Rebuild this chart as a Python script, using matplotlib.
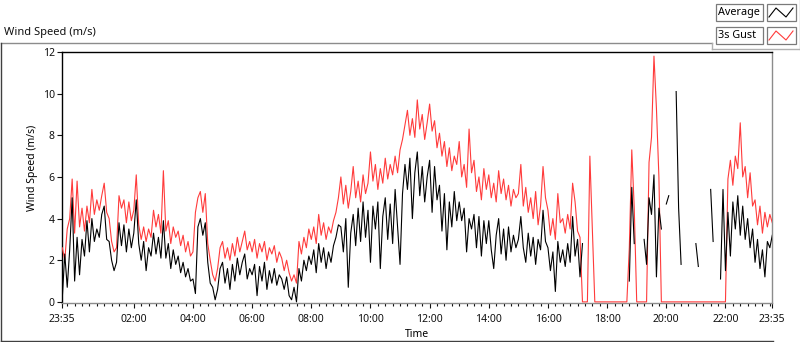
import numpy as np
import matplotlib
matplotlib.use("Agg")
import matplotlib.pyplot as plt
from matplotlib.lines import Line2D
from matplotlib.patches import Rectangle

nan = float("nan")

# 5-minute samples from 23:35 to 23:35 next day (289 samples)
gust = [
    2.6, 2.0, 3.5, 4.0, 5.9,                                    # 23:35-23:55
    3.3, 5.8, 3.6, 4.5, 3.4, 4.6, 3.8, 5.4, 4.2, 4.9, 4.4, 5.1,  # 00
    5.7, 4.3, 4.0, 2.9, 2.4, 2.6, 5.1, 4.5, 4.9, 3.8, 4.8, 3.9,  # 01
    4.4, 6.1, 3.7, 3.0, 3.6, 2.9, 3.5, 3.1, 4.4, 3.6, 4.2, 3.3,  # 02
    6.3, 3.4, 3.9, 2.8, 3.6, 3.1, 3.4, 2.7, 3.2, 2.4, 2.9, 2.2,  # 03
    2.4, 4.3, 5.0, 5.3, 4.3, 5.2, 2.8, 2.0, 1.3, 1.0, 1.6, 2.6,  # 04
    2.9, 2.1, 2.6, 2.0, 2.8, 2.2, 3.1, 2.4, 2.9, 3.4, 2.5, 2.9,  # 05
    2.4, 3.0, 2.1, 2.8, 2.4, 2.9, 2.0, 2.6, 2.3, 2.7, 1.9, 2.4,  # 06
    2.1, 1.5, 2.0, 1.4, 1.0, 1.3, 0.9, 2.9, 2.3, 3.1, 2.6, 3.5,  # 07
    3.0, 3.6, 2.8, 4.2, 3.2, 3.8, 3.0, 3.6, 3.3, 3.9, 4.3, 5.0,  # 08
    6.0, 4.7, 5.6, 4.5, 5.3, 6.5, 5.0, 5.8, 4.8, 6.1, 5.2, 5.7,  # 09
    7.2, 5.8, 6.6, 5.4, 6.4, 5.7, 6.9, 5.9, 6.6, 6.1, 7.0, 6.2,  # 10
    7.3, 7.8, 8.5, 9.2, 8.0, 8.8, 7.9, 9.7, 8.3, 9.0, 7.8, 8.6,  # 11
    9.5, 8.2, 8.7, 7.4, 8.1, 7.0, 7.7, 6.5, 7.4, 6.3, 7.0, 6.6,  # 12
    7.7, 6.0, 6.6, 5.5, 8.3, 6.2, 6.8, 5.3, 6.0, 4.9, 6.4, 5.4,  # 13
    6.1, 5.0, 5.7, 4.8, 6.3, 5.2, 5.9, 4.9, 5.6, 4.6, 5.4, 5.0,  # 14
    5.2, 6.6, 4.6, 5.5, 4.3, 5.0, 4.0, 5.3, 3.7, 4.6, 6.5, 5.0,  # 15
    4.4, 3.2, 4.0, 3.0, 5.2, 3.8, 4.0, 3.3, 4.2, 3.5, 5.7, 4.8,  # 16
    3.4, 3.1, 0.0, 0.0, 0.0, 7.0, 3.5, 0.0, 0.0, 0.0, 0.0, 0.0,  # 17
    0.0, 0.0, 0.0, 0.0, 0.0, 0.0, 0.0, 0.0, 0.0, 2.6, 7.3, 4.5,  # 18
    0.0, 0.0, 0.0, 0.0, 0.0, 6.7, 7.9, 11.8, 9.3, 6.0, 0.0, 0.0,  # 19
    0.0, 0.0, 0.0, 0.0, 0.0, 0.0, 0.0, 0.0, 0.0, 0.0, 0.0, 0.0,  # 20
    0.0, 0.0, 0.0, 0.0, 0.0, 0.0, 0.0, 0.0, 0.0, 0.0, 0.0, 0.0,  # 21
    0.0, 5.9, 6.8, 5.6, 7.0, 6.4, 8.6, 6.0, 6.5, 5.0, 6.2, 4.6,  # 22
    4.9, 3.7, 4.6, 3.3, 4.3, 3.6, 4.2, 3.8,                      # 23:00-23:35
]

average = [
    0.2, 2.3, 0.7, 2.5, 5.0,                                    # 23:35-23:55
    1.0, 3.1, 1.3, 3.0, 2.2, 3.9, 2.4, 4.0, 2.9, 3.5, 3.1, 4.2,  # 00
    4.6, 3.0, 2.9, 2.0, 1.5, 1.9, 3.8, 2.7, 3.7, 2.4, 3.5, 2.6,  # 01
    3.3, 4.9, 2.8, 2.0, 2.9, 1.5, 2.6, 2.2, 3.3, 2.3, 3.1, 2.1,  # 02
    3.9, 2.1, 2.8, 1.6, 2.5, 1.8, 2.2, 1.4, 1.9, 1.2, 1.6, 1.0,  # 03
    1.1, 0.4, 3.6, 4.0, 3.2, 3.8, 1.9, 0.9, 0.7, 0.1, 0.6, 1.6,  # 04
    1.9, 0.9, 1.6, 0.6, 1.8, 1.0, 2.1, 1.3, 1.9, 2.3, 1.1, 1.6,  # 05
    1.3, 1.8, 0.3, 1.7, 1.0, 1.9, 0.6, 1.5, 0.9, 1.6, 0.8, 1.3,  # 06
    1.1, 0.6, 1.2, 0.3, 0.1, 0.7, 0.0, 1.6, 1.0, 2.0, 1.5, 2.2,  # 07
    1.8, 2.5, 1.4, 2.8, 1.9, 2.6, 1.6, 2.4, 1.9, 2.7, 3.1, 3.7,  # 08
    3.6, 2.4, 4.0, 0.7, 3.3, 4.2, 2.7, 4.5, 2.9, 4.8, 3.1, 4.4,  # 09
    1.9, 4.6, 3.5, 4.8, 1.6, 4.1, 5.0, 3.0, 4.7, 2.8, 5.4, 3.6,  # 10
    1.8, 5.2, 6.6, 5.4, 6.9, 4.0, 6.2, 7.2, 5.1, 6.5, 4.8, 6.0,  # 11
    6.8, 4.3, 6.5, 4.9, 5.6, 3.4, 5.2, 2.5, 4.8, 3.6, 5.3, 3.9,  # 12
    4.8, 3.9, 4.5, 2.4, 4.0, 3.5, 4.2, 2.6, 4.1, 2.2, 3.9, 2.8,  # 13
    3.9, 2.5, 1.6, 3.2, 4.0, 2.3, 3.5, 2.0, 3.6, 2.4, 3.2, 2.6,  # 14
    3.0, 4.1, 2.6, 1.9, 3.3, 2.2, 3.1, 1.8, 3.0, 2.5, 4.4, 2.9,  # 15
    2.6, 1.5, 2.4, 0.5, 2.9, 1.9, 2.5, 1.7, 2.8, 1.9, 4.1, 2.2,  # 16
    3.0, 1.2, 2.8, nan, nan, nan, nan, nan, nan, nan, nan, nan,  # 17
    nan, nan, nan, nan, nan, nan, nan, nan, nan, 1.0, 5.5, 2.8,  # 18
    nan, nan, nan, 3.0, 1.8, 5.0, 4.2, 6.1, 1.2, 4.5, 3.5, nan,  # 19
    4.7, 5.1, nan, nan, 10.1, 4.5, 1.8, nan, nan, nan, nan, nan,  # 20
    2.8, 1.7, nan, nan, nan, nan, 5.4, 2.9, nan, nan, 1.1, 5.4,  # 21
    1.5, 4.3, 2.2, 4.8, 3.5, 5.1, 3.2, 4.6, 3.0, 4.0, 2.6, 3.5,  # 22
    1.9, 3.0, 1.6, 2.5, 1.2, 2.9, 2.6, 3.2,                      # 23:00-23:35
]

tick_labels = ["23:35", "02:00", "04:00", "06:00", "08:00", "10:00", "12:00",
               "14:00", "16:00", "18:00", "20:00", "22:00", "23:35"]
y_ticks = [0, 2, 4, 6, 8, 10, 12]

assert len(gust) == 289 and len(average) == 289

hours = np.arange(289) * 5 / 60.0  # hours since 23:35
major_pos = [0.0] + [2 + 25 / 60 + 2 * k for k in range(11)] + [24.0]
minor_pos = np.arange(10 / 60, 24, 0.25)

W, H = 800, 342
fig = plt.figure(figsize=(W / 100, H / 100), dpi=100)
fig.patch.set_facecolor("white")
FONT = "Noto Sans"
plt.rcParams["font.family"] = [FONT, "DejaVu Sans"]


def fx(x):
    return x / W


def fy(y):
    return 1 - y / H


# plot area
L, R, T, B = 62.3, 772.3, 52.0, 302.5
ax = fig.add_axes([fx(L), fy(B), fx(R) - fx(L), fy(T) - fy(B)])
ax.plot(hours, gust, color="#ff3b3b", lw=0.8, zorder=3)
ax.plot(hours, average, color="black", lw=0.8, zorder=4)
ax.set_xlim(0, 24)
ax.set_ylim(-0.03, 12)
ax.set_xticks(major_pos)
ax.set_xticklabels(tick_labels)
ax.set_xticks(minor_pos, minor=True)
ax.set_yticks(y_ticks)
ax.set_yticklabels([str(v) for v in y_ticks])
ax.tick_params(axis="both", which="major", direction="out", length=3.5, width=0.8,
               labelsize=7.5, colors="#111111")
ax.tick_params(axis="x", which="major", pad=5)
ax.tick_params(axis="y", which="major", pad=2)
ax.tick_params(axis="x", which="minor", direction="out", length=2.5, width=0.8,
               colors="#111111")
for s in ["top", "left"]:
    ax.spines[s].set_color("black")
    ax.spines[s].set_linewidth(1.0)
for s in ["bottom", "right"]:
    ax.spines[s].set_color("#8c8c8c")
    ax.spines[s].set_linewidth(1.0)
ax.set_xlabel("Time", fontsize=7.5, labelpad=3)
ax.set_ylabel("Wind Speed (m/s)", fontsize=7.5)
ax.yaxis.set_label_coords(-0.034, 0.537)

# panel frame
def fline(xs, ys, color, lw=1.0):
    fig.add_artist(Line2D([fx(x) for x in xs], [fy(y) for y in ys],
                          color=color, lw=lw, transform=fig.transFigure))

fline([0.5, 712], [42.5, 42.5], "#8c8c8c")
fline([0.5, 0.5], [42.5, 341], "#404040")
fline([0.5, 773], [341, 341], "#404040")
fline([712, 712], [42.5, 49], "#b0b0b0")
fline([712, 799.5], [49, 49], "#b0b0b0")
fline([799.5, 799.5], [0, 49], "#b0b0b0")

fig.text(fx(4), fy(32), "Wind Speed (m/s)", fontsize=8, ha="left", va="center",
         color="#111111")

# legend
entries = [("Average", "black", 4), ("3s Gust", "#ff3b3b", 27)]
for name, col, y0 in entries:
    fig.add_artist(Rectangle((fx(715.5), fy(y0 + 17)), fx(762.5) - fx(715.5),
                             fy(y0) - fy(y0 + 17), transform=fig.transFigure,
                             facecolor="white", edgecolor="#7a7a7a", lw=0.9))
    fig.text(fx(718), fy(y0 + 8.5), name, fontsize=7.8, ha="left", va="center",
             color="black")
    fig.add_artist(Rectangle((fx(766.5), fy(y0 + 17)), fx(795.5) - fx(766.5),
                             fy(y0) - fy(y0 + 17), transform=fig.transFigure,
                             facecolor="white", edgecolor="#7a7a7a", lw=0.9))
    zx = [769, 776, 786, 793]
    zy = [y0 + 13, y0 + 4, y0 + 13, y0 + 4]
    fig.add_artist(Line2D([fx(v) for v in zx], [fy(v) for v in zy], color=col,
                          lw=0.8, transform=fig.transFigure))

fig.savefig("out.png", dpi=100, facecolor="white")
